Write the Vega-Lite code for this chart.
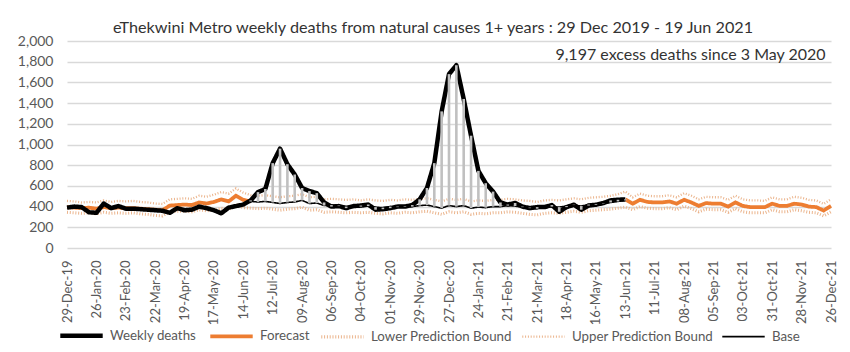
{
  "$schema": "https://vega.github.io/schema/vega-lite/v6.json",
  "autosize": "none",
  "width": 764,
  "height": 207,
  "padding": {"left": 67, "top": 41, "right": 19, "bottom": 104},
  "background": "white",
  "config": {"view": {"stroke": null}, "font": "Lato"},
  "title": {"text": "eThekwini Metro weekly deaths from natural causes 1+ years : 29 Dec 2019  - 19 Jun 2021", "fontSize": 16.2, "fontWeight": "normal", "font": "Lato", "color": "#333333", "anchor": "middle", "dx": -16, "offset": -2},
  "data": {"values": [
    {"d":"2019-12-29","w":390,"f":395,"lo":345,"up":455,"b":null},
    {"d":"2020-01-05","w":400,"f":390,"lo":340,"up":450,"b":null},
    {"d":"2020-01-12","w":395,"f":385,"lo":335,"up":440,"b":null},
    {"d":"2020-01-19","w":345,"f":390,"lo":340,"up":445,"b":null},
    {"d":"2020-01-26","w":340,"f":380,"lo":330,"up":440,"b":null},
    {"d":"2020-02-02","w":430,"f":395,"lo":345,"up":460,"b":null},
    {"d":"2020-02-09","w":385,"f":385,"lo":335,"up":445,"b":null},
    {"d":"2020-02-16","w":405,"f":390,"lo":340,"up":455,"b":null},
    {"d":"2020-02-23","w":380,"f":385,"lo":335,"up":450,"b":null},
    {"d":"2020-03-01","w":380,"f":385,"lo":340,"up":455,"b":null},
    {"d":"2020-03-08","w":375,"f":380,"lo":330,"up":445,"b":null},
    {"d":"2020-03-15","w":370,"f":375,"lo":325,"up":440,"b":null},
    {"d":"2020-03-22","w":365,"f":370,"lo":315,"up":430,"b":null},
    {"d":"2020-03-29","w":360,"f":365,"lo":310,"up":425,"b":null},
    {"d":"2020-04-05","w":340,"f":410,"lo":350,"up":470,"b":null},
    {"d":"2020-04-12","w":385,"f":415,"lo":355,"up":475,"b":null},
    {"d":"2020-04-19","w":365,"f":420,"lo":355,"up":480,"b":null},
    {"d":"2020-04-26","w":370,"f":415,"lo":350,"up":475,"b":null},
    {"d":"2020-05-03","w":400,"f":440,"lo":370,"up":505,"b":null},
    {"d":"2020-05-10","w":385,"f":430,"lo":360,"up":495,"b":null},
    {"d":"2020-05-17","w":365,"f":445,"lo":365,"up":515,"b":null},
    {"d":"2020-05-24","w":335,"f":470,"lo":385,"up":540,"b":null},
    {"d":"2020-05-31","w":390,"f":450,"lo":370,"up":525,"b":null},
    {"d":"2020-06-07","w":405,"f":505,"lo":420,"up":575,"b":null},
    {"d":"2020-06-14","w":420,"f":465,"lo":390,"up":535,"b":null},
    {"d":"2020-06-21","w":460,"f":450,"lo":385,"up":510,"b":450},
    {"d":"2020-06-28","w":540,"f":null,"lo":380,"up":505,"b":445},
    {"d":"2020-07-05","w":570,"f":null,"lo":385,"up":510,"b":450},
    {"d":"2020-07-12","w":820,"f":null,"lo":375,"up":500,"b":440},
    {"d":"2020-07-19","w":960,"f":null,"lo":365,"up":490,"b":430},
    {"d":"2020-07-26","w":810,"f":null,"lo":375,"up":500,"b":440},
    {"d":"2020-08-02","w":710,"f":null,"lo":380,"up":505,"b":445},
    {"d":"2020-08-09","w":580,"f":null,"lo":395,"up":520,"b":460},
    {"d":"2020-08-16","w":550,"f":null,"lo":365,"up":490,"b":430},
    {"d":"2020-08-23","w":530,"f":null,"lo":370,"up":495,"b":435},
    {"d":"2020-08-30","w":440,"f":null,"lo":345,"up":470,"b":410},
    {"d":"2020-09-06","w":400,"f":null,"lo":350,"up":475,"b":415},
    {"d":"2020-09-13","w":405,"f":null,"lo":345,"up":470,"b":410},
    {"d":"2020-09-20","w":385,"f":null,"lo":340,"up":465,"b":400},
    {"d":"2020-09-27","w":405,"f":null,"lo":345,"up":470,"b":405},
    {"d":"2020-10-04","w":410,"f":null,"lo":340,"up":460,"b":400},
    {"d":"2020-10-11","w":420,"f":null,"lo":345,"up":470,"b":405},
    {"d":"2020-10-18","w":370,"f":null,"lo":335,"up":460,"b":395},
    {"d":"2020-10-25","w":375,"f":null,"lo":330,"up":455,"b":390},
    {"d":"2020-11-01","w":385,"f":null,"lo":340,"up":465,"b":400},
    {"d":"2020-11-08","w":400,"f":null,"lo":335,"up":460,"b":395},
    {"d":"2020-11-15","w":400,"f":null,"lo":345,"up":470,"b":405},
    {"d":"2020-11-22","w":415,"f":null,"lo":340,"up":465,"b":400},
    {"d":"2020-11-29","w":470,"f":null,"lo":350,"up":475,"b":410},
    {"d":"2020-12-06","w":580,"f":null,"lo":355,"up":480,"b":415},
    {"d":"2020-12-13","w":820,"f":null,"lo":340,"up":465,"b":400},
    {"d":"2020-12-20","w":1320,"f":null,"lo":325,"up":450,"b":385},
    {"d":"2020-12-27","w":1680,"f":null,"lo":350,"up":475,"b":410},
    {"d":"2021-01-03","w":1766,"f":null,"lo":340,"up":465,"b":400},
    {"d":"2021-01-10","w":1440,"f":null,"lo":350,"up":475,"b":410},
    {"d":"2021-01-17","w":1085,"f":null,"lo":325,"up":450,"b":385},
    {"d":"2021-01-24","w":745,"f":null,"lo":335,"up":460,"b":395},
    {"d":"2021-01-31","w":626,"f":null,"lo":330,"up":455,"b":390},
    {"d":"2021-02-07","w":545,"f":null,"lo":340,"up":465,"b":400},
    {"d":"2021-02-14","w":440,"f":null,"lo":340,"up":465,"b":400},
    {"d":"2021-02-21","w":420,"f":null,"lo":350,"up":475,"b":410},
    {"d":"2021-02-28","w":435,"f":null,"lo":345,"up":470,"b":405},
    {"d":"2021-03-07","w":400,"f":null,"lo":335,"up":460,"b":395},
    {"d":"2021-03-14","w":385,"f":null,"lo":325,"up":455,"b":390},
    {"d":"2021-03-21","w":395,"f":null,"lo":320,"up":445,"b":380},
    {"d":"2021-03-28","w":395,"f":null,"lo":335,"up":460,"b":395},
    {"d":"2021-04-04","w":415,"f":null,"lo":340,"up":465,"b":400},
    {"d":"2021-04-11","w":350,"f":null,"lo":335,"up":460,"b":395},
    {"d":"2021-04-18","w":395,"f":null,"lo":345,"up":470,"b":405},
    {"d":"2021-04-25","w":418,"f":null,"lo":355,"up":480,"b":415},
    {"d":"2021-05-02","w":370,"f":null,"lo":345,"up":470,"b":405},
    {"d":"2021-05-09","w":410,"f":null,"lo":360,"up":485,"b":420},
    {"d":"2021-05-16","w":418,"f":null,"lo":365,"up":490,"b":425},
    {"d":"2021-05-23","w":434,"f":null,"lo":370,"up":495,"b":430},
    {"d":"2021-05-30","w":460,"f":null,"lo":375,"up":505,"b":440},
    {"d":"2021-06-06","w":466,"f":null,"lo":385,"up":520,"b":450},
    {"d":"2021-06-13","w":470,"f":470,"lo":395,"up":545,"b":460},
    {"d":"2021-06-20","w":null,"f":428,"lo":370,"up":490,"b":null},
    {"d":"2021-06-27","w":null,"f":466,"lo":400,"up":525,"b":null},
    {"d":"2021-07-04","w":null,"f":445,"lo":385,"up":505,"b":null},
    {"d":"2021-07-11","w":null,"f":440,"lo":380,"up":500,"b":null},
    {"d":"2021-07-18","w":null,"f":440,"lo":380,"up":500,"b":null},
    {"d":"2021-07-25","w":null,"f":450,"lo":390,"up":510,"b":null},
    {"d":"2021-08-01","w":null,"f":428,"lo":370,"up":490,"b":null},
    {"d":"2021-08-08","w":null,"f":466,"lo":405,"up":530,"b":null},
    {"d":"2021-08-15","w":null,"f":440,"lo":380,"up":505,"b":null},
    {"d":"2021-08-22","w":null,"f":407,"lo":350,"up":470,"b":null},
    {"d":"2021-08-29","w":null,"f":434,"lo":375,"up":495,"b":null},
    {"d":"2021-09-05","w":null,"f":428,"lo":370,"up":490,"b":null},
    {"d":"2021-09-12","w":null,"f":428,"lo":370,"up":490,"b":null},
    {"d":"2021-09-19","w":null,"f":400,"lo":345,"up":465,"b":null},
    {"d":"2021-09-26","w":null,"f":440,"lo":380,"up":505,"b":null},
    {"d":"2021-10-03","w":null,"f":407,"lo":350,"up":470,"b":null},
    {"d":"2021-10-10","w":null,"f":395,"lo":340,"up":460,"b":null},
    {"d":"2021-10-17","w":null,"f":395,"lo":340,"up":460,"b":null},
    {"d":"2021-10-24","w":null,"f":395,"lo":340,"up":455,"b":null},
    {"d":"2021-10-31","w":null,"f":428,"lo":370,"up":490,"b":null},
    {"d":"2021-11-07","w":null,"f":407,"lo":350,"up":470,"b":null},
    {"d":"2021-11-14","w":null,"f":407,"lo":350,"up":470,"b":null},
    {"d":"2021-11-21","w":null,"f":428,"lo":370,"up":495,"b":null},
    {"d":"2021-11-28","w":null,"f":420,"lo":360,"up":485,"b":null},
    {"d":"2021-12-05","w":null,"f":400,"lo":345,"up":465,"b":null},
    {"d":"2021-12-12","w":null,"f":395,"lo":340,"up":460,"b":null},
    {"d":"2021-12-19","w":null,"f":362,"lo":310,"up":425,"b":null},
    {"d":"2021-12-26","w":null,"f":407,"lo":350,"up":470,"b":null}
  ]},
  "encoding": {
    "x": {"field": "d", "type": "temporal",
      "scale": {"type": "utc", "domain": [{"year":2019,"month":12,"date":29,"utc":true},{"year":2021,"month":12,"date":26,"utc":true}], "nice": false},
      "axis": {"title": null, "labelExpr": "utcFormat(datum.value, '%d-%b-%y')", "labelAngle": 270, "labelFontSize": 13, "labelColor": "#595959", "labelFont": "Lato", "ticks": false, "domain": false, "grid": false, "labelPadding": 12, "labelOverlap": false,
        "values": [
          {"year":2019,"month":12,"date":29,"utc":true},{"year":2020,"month":1,"date":26,"utc":true},{"year":2020,"month":2,"date":23,"utc":true},{"year":2020,"month":3,"date":22,"utc":true},{"year":2020,"month":4,"date":19,"utc":true},{"year":2020,"month":5,"date":17,"utc":true},{"year":2020,"month":6,"date":14,"utc":true},{"year":2020,"month":7,"date":12,"utc":true},{"year":2020,"month":8,"date":9,"utc":true},{"year":2020,"month":9,"date":6,"utc":true},{"year":2020,"month":10,"date":4,"utc":true},{"year":2020,"month":11,"date":1,"utc":true},{"year":2020,"month":11,"date":29,"utc":true},{"year":2020,"month":12,"date":27,"utc":true},{"year":2021,"month":1,"date":24,"utc":true},{"year":2021,"month":2,"date":21,"utc":true},{"year":2021,"month":3,"date":21,"utc":true},{"year":2021,"month":4,"date":18,"utc":true},{"year":2021,"month":5,"date":16,"utc":true},{"year":2021,"month":6,"date":13,"utc":true},{"year":2021,"month":7,"date":11,"utc":true},{"year":2021,"month":8,"date":8,"utc":true},{"year":2021,"month":9,"date":5,"utc":true},{"year":2021,"month":10,"date":3,"utc":true},{"year":2021,"month":10,"date":31,"utc":true},{"year":2021,"month":11,"date":28,"utc":true},{"year":2021,"month":12,"date":26,"utc":true}
        ]}
    },
    "y": {"field": "value", "type": "quantitative", "scale": {"domain": [0, 2000], "nice": false},
      "axis": {"title": null, "values": [0,200,400,600,800,1000,1200,1400,1600,1800,2000], "format": ",d", "labelFontSize": 14, "labelColor": "#595959", "labelFont": "Lato", "ticks": false, "domain": false, "gridColor": "#D9D9D9", "gridWidth": 1.3, "labelPadding": 14, "labelOverlap": false}}
  },
  "layer": [
    {
      "encoding": {
        "color": {"field": "series", "type": "nominal",
          "scale": {"domain": ["w","f","lo","up","b"], "range": ["#000000","#ED7D31","#EBB48C","#EBB48C","#000000"]},
          "legend": {"title": null, "orient": "none", "legendX": -9, "legendY": 271, "direction": "horizontal", "columns": 5, "symbolType": "stroke", "symbolSize": 1800, "labelFontSize": 13.3, "labelFont": "Lato", "labelColor": "#595959", "labelOffset": 5, "columnPadding": 5,
            "labelExpr": "datum.label == 'w' ? 'Weekly deaths' : datum.label == 'f' ? 'Forecast' : datum.label == 'lo' ? 'Lower Prediction Bound' : datum.label == 'up' ? 'Upper Prediction Bound' : 'Base'"}},
        "strokeDash": {"field": "series", "type": "nominal",
          "scale": {"domain": ["w","f","lo","up","b"], "range": [[1,0],[1,0],[1,1.8],[1,1.8],[1,0]]}},
        "strokeWidth": {"field": "series", "type": "nominal",
          "scale": {"domain": ["w","f","lo","up","b"], "range": [4.5,1.6,1.1,1.1,1.6]}}
      },
      "layer": [
        {"transform": [{"fold": ["lo"], "as": ["series", "value"]}], "mark": {"type": "line", "invalid": "break-paths-filter-domains"}},
        {"transform": [{"fold": ["up"], "as": ["series", "value"]}], "mark": {"type": "line", "invalid": "break-paths-filter-domains"}},
        {"transform": [{"fold": ["f"], "as": ["series", "value"]}], "mark": {"type": "line", "invalid": "break-paths-filter-domains"}},
        {"transform": [{"fold": ["b"], "as": ["series", "value"]}], "mark": {"type": "line", "invalid": "break-paths-filter-domains"}},
        {"transform": [{"fold": ["w"], "as": ["series", "value"]}], "mark": {"type": "line", "invalid": "break-paths-filter-domains", "strokeJoin": "round"}}
      ]
    },
    {
      "transform": [{"filter": "datum.b != null && datum.w != null"}, {"fold": ["b"], "as": ["series", "value"]}],
      "mark": {"type": "rule", "color": "#C0C0C0", "strokeWidth": 2.6},
      "encoding": {
        "y2": {"field": "w"}
      }
    },
    {
      "transform": [{"filter": "datum.f == 362"}],
      "mark": {"type": "text", "align": "right", "baseline": "middle", "fontSize": 16, "font": "Lato", "color": "#333333", "dx": 2, "y": {"expr": "scale('y', 1862)"}},
      "encoding": {
        "y": null,
        "text": {"value": "9,197 excess deaths since 3 May 2020"}
      }
    }
  ]
}
